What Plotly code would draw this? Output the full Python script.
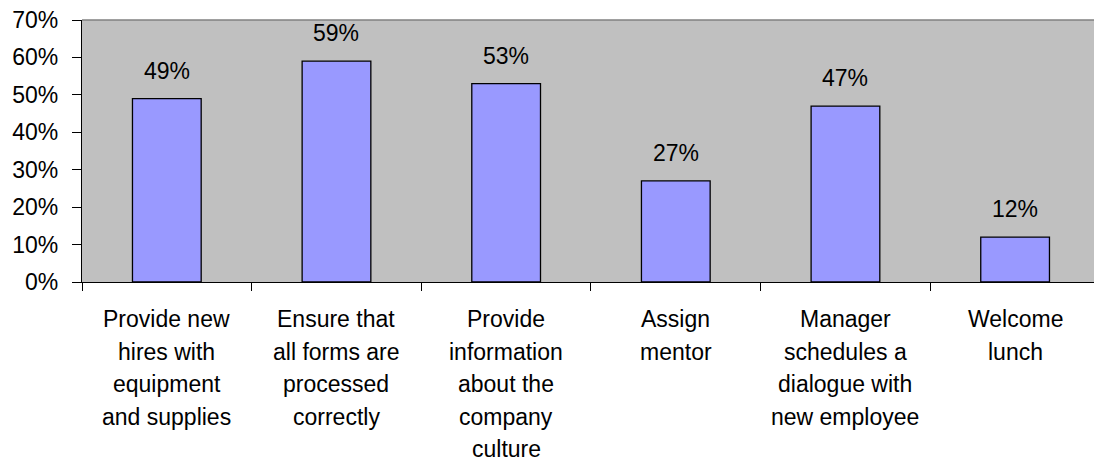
import plotly.graph_objects as go

categories = ["c1", "c2", "c3", "c4", "c5", "c6"]
label_lines = [
    ["Provide new", "hires with", "equipment", "and supplies"],
    ["Ensure that", "all forms are", "processed", "correctly"],
    ["Provide", "information", "about the", "company", "culture"],
    ["Assign", "mentor"],
    ["Manager", "schedules a", "dialogue with", "new employee"],
    ["Welcome", "lunch"],
]
values = [49, 59, 53, 27, 47, 12]
ytick_vals = [0, 10, 20, 30, 40, 50, 60, 70]
ytick_text = ["0%", "10%", "20%", "30%", "40%", "50%", "60%", "70%"]

FONT = "Liberation Sans, Arial, sans-serif"

fig = go.Figure()
fig.add_trace(go.Bar(
    x=categories, y=values, width=0.405,
    marker=dict(color="#9999FF", line=dict(color="black", width=1.3)),
    hoverinfo="skip",
))

annotations = []
for c, v in zip(categories, values):
    annotations.append(dict(
        x=c, y=v, xref="x", yref="y", text=f"{v}%", showarrow=False,
        yanchor="middle", yshift=28, font=dict(size=23, color="black", family=FONT),
    ))
for c, lines in zip(categories, label_lines):
    for i, line in enumerate(lines):
        annotations.append(dict(
            x=c, y=0, xref="x", yref="y", text=line, showarrow=False,
            yanchor="middle", yshift=-(37 + 32.5 * i), borderpad=0,
            font=dict(size=23, color="black", family=FONT),
        ))

fig.update_layout(
    width=1094, height=461,
    margin=dict(l=82, r=0, t=20, b=179, pad=0),
    paper_bgcolor="white", plot_bgcolor="#C0C0C0",
    showlegend=False,
    annotations=annotations,
    font=dict(family=FONT, color="black"),
    shapes=[dict(type="line", xref="paper", yref="paper", x0=0, x1=1, y0=1, y1=1,
                 line=dict(color="#808080", width=1.5))],
    xaxis=dict(
        type="category", categoryorder="array", categoryarray=categories,
        range=[-0.5, 5.465], showticklabels=False,
        ticks="outside", tickson="boundaries", ticklen=8, tickcolor="black", tickwidth=1,
        showline=True, linecolor="black", linewidth=1.3, showgrid=False, zeroline=False,
        fixedrange=True,
    ),
    yaxis=dict(
        range=[0, 70], tickvals=ytick_vals, ticktext=ytick_text,
        ticks="outside", ticklen=9, tickcolor="black", tickwidth=1,
        ticklabelstandoff=9,
        showline=True, linecolor="black", linewidth=1.3, showgrid=False, zeroline=False,
        tickfont=dict(size=23, color="black", family=FONT),
        fixedrange=True,
    ),
)

fig.write_html(
    "out.html",
    config={"displayModeBar": False},
    post_script="document.body.style.margin='0';document.body.style.overflow='hidden';",
)
